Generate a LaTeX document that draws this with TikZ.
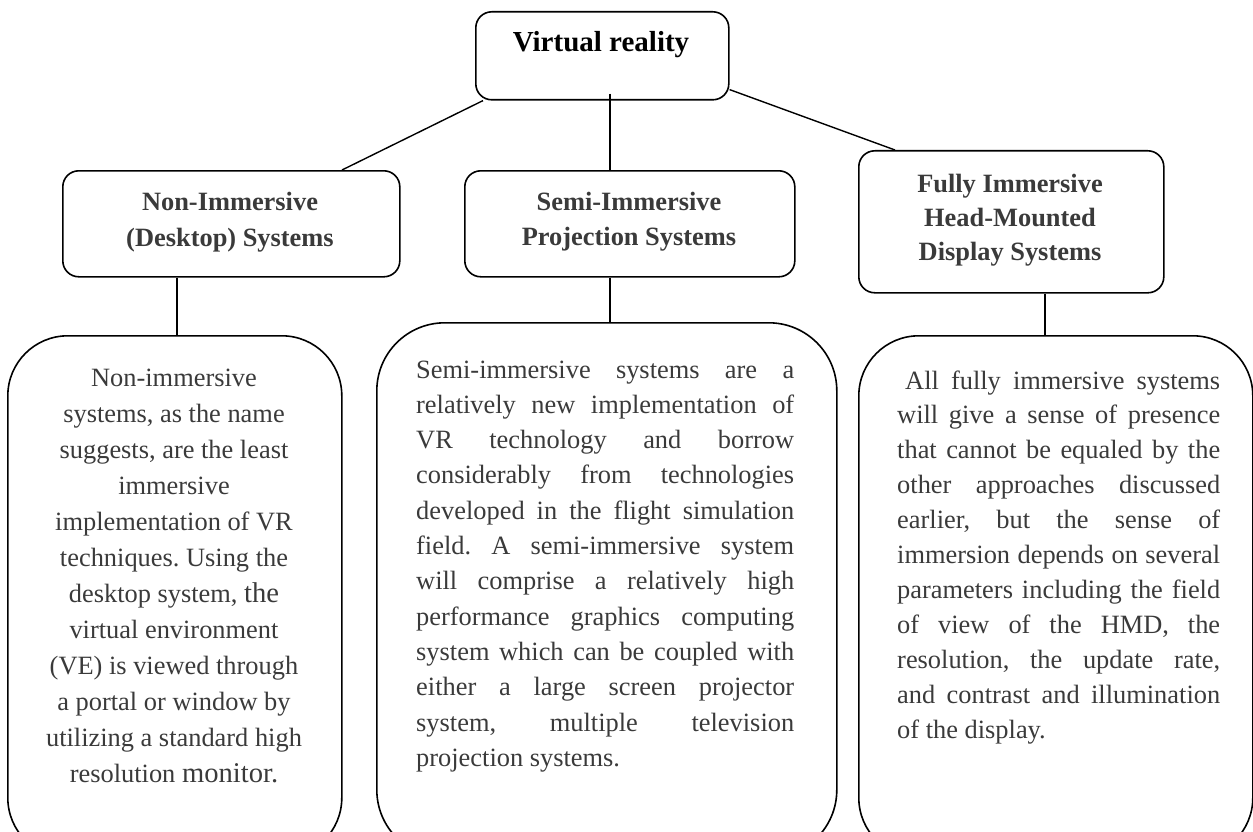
\documentclass[tikz,border=0pt]{standalone}
\usepackage{fontspec}
\setmainfont{Liberation Serif}
\frenchspacing
\definecolor{txt}{RGB}{58,58,58}
\tikzset{
  hbox/.style={draw, line width=1.6pt, rounded corners=16pt, inner sep=0pt, anchor=north west},
  bbox/.style={draw, line width=1.6pt, rounded corners=60pt, inner sep=0pt, anchor=north west},
  link/.style={line width=1.4pt},
  lbl/.style={inner sep=0pt, text=txt},
}
\begin{document}
\frenchspacing
\begin{tikzpicture}[x=1pt,y=-1pt]
\useasboundingbox (0,0) rectangle (1253,832);
\clip (0,0) rectangle (1253,832);

% boxes
\node[hbox, minimum width=253pt, minimum height=88pt] (vr) at (475,11) {};
\node[hbox, minimum width=337pt, minimum height=106pt] (non) at (62,170) {};
\node[hbox, minimum width=330pt, minimum height=106pt] (semi) at (464,170) {};
\node[hbox, minimum width=305pt, minimum height=142pt] (full) at (858,150) {};
\node[bbox, minimum width=334pt, minimum height=522pt] (b1) at (7,335) {};
\node[bbox, rounded corners=68pt, minimum width=460pt, minimum height=535pt] (b2) at (376,322) {};
\node[bbox, minimum width=394pt, minimum height=522pt] (b3) at (858,335) {};

% connectors
\draw[link] ([xshift=8pt]vr.south west) -- ([xshift=280pt]non.north west);
\draw[link] ([xshift=135pt,yshift=7pt]vr.south west) -- ([xshift=146pt]semi.north west);
\draw[link] ([yshift=11pt]vr.south east) -- ([xshift=37pt]full.north west);
\draw[link] ([xshift=115pt]non.south west) -- ([xshift=170pt]b1.north west);
\draw[link] ([xshift=146pt]semi.south west) -- ([xshift=234pt]b2.north west);
\draw[link] ([xshift=187pt]full.south west) -- ([xshift=187pt]b3.north west);

% header texts
\node[lbl, text=black, anchor=base, font=\fontsize{29}{34}\selectfont\bfseries] (vrt) at (601,52) {Virtual reality};
\node[lbl, anchor=base] (nont) at (230,210) {\parbox[t]{320pt}{\centering\fontsize{26.4}{36}\selectfont\bfseries Non-Immersive\\(Desktop) Systems}};
\node[lbl, anchor=base] (semit) at (629,210) {\parbox[t]{320pt}{\centering\fontsize{26.4}{35}\selectfont\bfseries Semi-Immersive\\Projection Systems}};
\node[lbl, anchor=base] (fullt) at (1010,192) {\parbox[t]{290pt}{\centering\fontsize{26.4}{34.5}\selectfont\bfseries Fully Immersive\\Head-Mounted\\Display Systems}};

% body texts
\node[lbl, anchor=base] (t1) at (174,386) {\parbox[t]{330pt}{\centering\fontsize{26.4}{36}\selectfont
Non-immersive\\
systems, as the name\\
suggests, are the least\\
immersive\\
implementation of VR\\
techniques. Using the\\
desktop system, {\fontsize{28.6}{36}\selectfont the}\\
virtual environment\\
(VE) is viewed through\\
a portal or window by\\
utilizing a standard high\\
resolution {\fontsize{28.6}{36}\selectfont monitor.}}};

\node[lbl, anchor=base west] (t2) at (416,378) {\parbox[t]{378pt}{\fontsize{26.4}{35.3}\selectfont
\makebox[378pt][s]{Semi-immersive systems are a}\\
\makebox[378pt][s]{relatively new implementation of}\\
\makebox[378pt][s]{VR technology and borrow}\\
\makebox[378pt][s]{considerably from technologies}\\
\makebox[378pt][s]{developed in the flight simulation}\\
\makebox[378pt][s]{field. A semi-immersive system}\\
\makebox[378pt][s]{will comprise a relatively high}\\
\makebox[378pt][s]{performance graphics computing}\\
\makebox[378pt][s]{system which can be coupled with}\\
\makebox[378pt][s]{either a large screen projector}\\
\makebox[378pt][s]{system, multiple television}\\
projection systems.}};

\node[lbl, anchor=base west] (t3) at (897,389) {\parbox[t]{323pt}{\fontsize{26.4}{34.9}\selectfont
\hspace*{8pt}\makebox[315pt][s]{All fully immersive systems}\\
\makebox[323pt][s]{will give a sense of presence}\\
\makebox[323pt][s]{that cannot be equaled by the}\\
\makebox[323pt][s]{other approaches discussed}\\
\makebox[323pt][s]{earlier, but the sense of}\\
\makebox[323pt][s]{immersion depends on several}\\
\makebox[323pt][s]{parameters including the field}\\
\makebox[323pt][s]{of view of the HMD, the}\\
\makebox[323pt][s]{resolution, the update rate,}\\
\makebox[323pt][s]{and contrast and illumination}\\
of the display.}};
\end{tikzpicture}
\end{document}
